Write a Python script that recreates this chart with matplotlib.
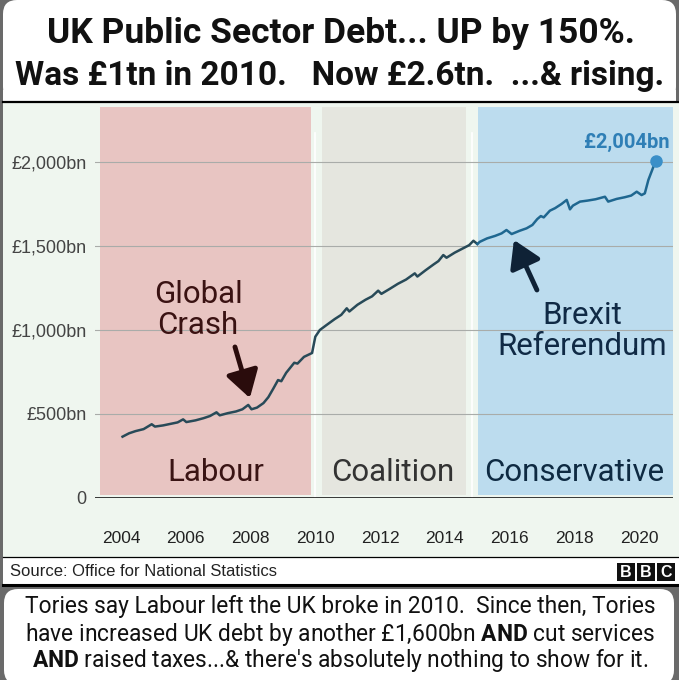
import numpy as np
import matplotlib.pyplot as plt
from matplotlib.patches import FancyBboxPatch, Rectangle

plt.rcParams['mathtext.fontset'] = 'custom'
plt.rcParams['mathtext.rm'] = 'Roboto'
plt.rcParams['mathtext.bf'] = 'Roboto:bold'

# Debt series (year, £bn): Labour + Coalition years
years = [2004.05, 2004.25, 2004.45, 2004.7, 2004.95, 2005.05, 2005.3, 2005.55, 2005.75,
         2005.92, 2006.02, 2006.3, 2006.55, 2006.75, 2006.95, 2007.05, 2007.3, 2007.55,
         2007.75, 2007.93, 2008.03, 2008.2, 2008.4, 2008.55, 2008.7, 2008.85, 2008.95,
         2009.1, 2009.35, 2009.45, 2009.65, 2009.9, 2010.0, 2010.14, 2010.35, 2010.6,
         2010.8, 2010.97, 2011.05, 2011.3, 2011.55, 2011.75, 2011.94, 2012.04, 2012.3,
         2012.55, 2012.8, 2013.07, 2013.15, 2013.4, 2013.65, 2013.8, 2013.95, 2014.05,
         2014.3, 2014.55, 2014.75, 2014.88, 2015.0]
debt = [365, 385, 398, 410, 439, 425, 432, 442, 450,
        468, 452, 462, 475, 488, 510, 492, 505, 515,
        528, 554, 528, 538, 565, 600, 650, 702, 695,
        745, 805, 800, 840, 863, 960, 1000, 1030, 1065,
        1090, 1129, 1110, 1150, 1180, 1200, 1234, 1215, 1245,
        1275, 1300, 1337, 1318, 1355, 1390, 1410, 1446, 1430,
        1460, 1485, 1505, 1531, 1512]
# Conservative years
years_con = [2015.0, 2015.08, 2015.3, 2015.55, 2015.75, 2015.9, 2016.06, 2016.3, 2016.52,
             2016.7, 2016.85, 2016.96, 2017.05, 2017.24, 2017.4, 2017.6, 2017.76, 2017.86,
             2017.95, 2018.17, 2018.4, 2018.65, 2018.94, 2019.04, 2019.3, 2019.55, 2019.75,
             2019.92, 2020.07, 2020.17, 2020.28, 2020.5]
debt_con = [1512, 1525, 1545, 1560, 1575, 1595, 1571, 1590, 1605,
            1625, 1660, 1678, 1670, 1710, 1725, 1750, 1774, 1718,
            1740, 1764, 1770, 1778, 1793, 1764, 1780, 1790, 1800,
            1823, 1803, 1813, 1893, 2004]

periods = ['Labour', 'Coalition', 'Conservative']
period_start = [2003.35, 2010.2, 2015.02]
period_end = [2009.88, 2014.65, 2021.04]
period_colors = ['#e8c5c2', '#e5e6df', '#bcdcee']
period_text_colors = ['#3a1414', '#333333', '#0e2a42']
period_label_x = [2006.93, 2012.4, 2018.0]

yticks = [0, 500, 1000, 1500, 2000]
ytick_labels = ['0', '£500bn', '£1,000bn', '£1,500bn', '£2,000bn']
xticks = [2004, 2006, 2008, 2010, 2012, 2014, 2016, 2018, 2020]

W, H = 679, 680
fig = plt.figure(figsize=(W / 100, H / 100), dpi=100)
fig.patch.set_facecolor('#6a6a6a')

# background canvas in pixel coordinates
bg = fig.add_axes([0, 0, 1, 1])
bg.set_xlim(0, W)
bg.set_ylim(H, 0)
bg.axis('off')
bg.add_patch(FancyBboxPatch((3, 0), W - 6, 101, boxstyle='round,pad=0,rounding_size=14',
                            fc='white', ec='none'))
bg.add_patch(Rectangle((3, 90), W - 6, 12, fc='white', ec='none'))
bg.add_patch(Rectangle((3, 102), W - 3, 455, fc='#eff6ef', ec='none'))
bg.add_patch(Rectangle((3, 557), W - 3, 27, fc='white', ec='none'))
bg.plot([3, W], [102, 102], color='black', lw=1.6)
bg.plot([3, W], [557, 557], color='black', lw=0.9)
bg.plot([3, W], [585, 585], color='black', lw=2.2)
bg.add_patch(FancyBboxPatch((4, 589), W - 9, 95, boxstyle='round,pad=0,rounding_size=14',
                            fc='white', ec='none'))

bg.text(341, 33, 'UK Public Sector Debt... UP by 150%.', ha='center', va='center',
        fontsize=25.5, fontweight='bold', family='Roboto', color='#111111')
bg.text(340, 76, 'Was £1tn in 2010.   Now £2.6tn.  ...& rising.', ha='center', va='center',
        fontsize=24, fontweight='bold', family='Roboto', color='#111111')

bg.text(10, 571, 'Source: Office for National Statistics', ha='left', va='center',
        fontsize=12, family='Liberation Sans', color='#222222')
for i, letter in enumerate('BBC'):
    x0 = 617 + i * 20
    bg.add_patch(Rectangle((x0, 563), 18, 18, fc='#111111', ec='none'))
    bg.text(x0 + 9, 572.5, letter, ha='center', va='center', fontsize=11.5,
            fontweight='bold', family='Liberation Sans', color='white')

bottom_lines = [
    'Tories say Labour left the UK broke in 2010.  Since then, Tories',
    r'have increased UK debt by another £1,600bn $\mathbf{AND}$ cut services',
    r"$\mathbf{AND}$ raised taxes...& there's absolutely nothing to show for it.",
]
for i, line in enumerate(bottom_lines):
    bg.text(340, 607 + i * 27, line, ha='center', va='center', fontsize=16.4,
            family='Roboto', color='#111111')

# main chart axes
left, right, top, bottom = 95, 673, 105, 498
ax = fig.add_axes([left / W, 1 - bottom / H, (right - left) / W, (bottom - top) / H])
ax.patch.set_alpha(0)
ax.set_xlim(2003.2, 2021.04)
ax.set_ylim(0, 2339)

for s, e, c in zip(period_start, period_end, period_colors):
    ax.axvspan(s, e, ymin=0.008, ymax=0.995, color=c, lw=0, zorder=0)
for xv in [2010.0, 2014.85]:
    ax.axvline(xv, ymin=0, ymax=0.93, color='white', lw=1.2, zorder=0.5)

for yv in yticks[1:]:
    ax.axhline(yv, color='#a9aca9', lw=0.8, zorder=1)
ax.axhline(0, color='black', lw=1.8, zorder=3)

for name, xc, tc in zip(periods, period_label_x, period_text_colors):
    ax.text(xc, 149, name, ha='center', va='center', fontsize=22.5, family='Roboto', color=tc)

ax.plot(years, debt, color='#284a58', lw=1.8, zorder=4)
ax.plot(years_con, debt_con, color='#1f6790', lw=1.8, zorder=4)
ax.plot([years_con[-1]], [debt_con[-1]], 'o', color='#3a8fc8', ms=8, zorder=5)
ax.text(2019.6, 2119, '£2,004bn', ha='center', va='center', fontsize=14.5,
        fontweight='bold', family='Roboto', color='#2f7fb6')

ax.text(2006.38, 1119, 'Global\nCrash', ha='center', va='center', fontsize=22.5,
        family='Roboto', color='#3a1212', linespacing=1.05)
ax.annotate('', xy=(2007.98, 595), xytext=(2007.52, 899),
            arrowprops=dict(arrowstyle='-|>,head_width=0.55,head_length=0.9',
                            mutation_scale=18, lw=3.5, color='#2a0c0c',
                            shrinkA=0, shrinkB=0))
ax.text(2018.23, 994, 'Brexit\nReferendum', ha='center', va='center', fontsize=22.5,
        family='Roboto', color='#102a45', linespacing=1.05)
ax.annotate('', xy=(2016.13, 1536), xytext=(2016.84, 1238),
            arrowprops=dict(arrowstyle='-|>,head_width=0.55,head_length=0.9',
                            mutation_scale=18, lw=3.5, color='#0f2236',
                            shrinkA=0, shrinkB=0))

ax.set_yticks(yticks)
ax.set_yticklabels(ytick_labels, family='Liberation Sans', fontsize=13, color='#444444')
ax.set_xticks(xticks)
ax.set_xticklabels([str(x) for x in xticks], family='Liberation Sans', fontsize=12.5,
                   color='#222222')
ax.tick_params(axis='y', length=0, pad=6)
ax.tick_params(axis='x', length=0, pad=24)
for sp in ax.spines.values():
    sp.set_visible(False)

fig.savefig('out.png', dpi=100, facecolor=fig.get_facecolor())
